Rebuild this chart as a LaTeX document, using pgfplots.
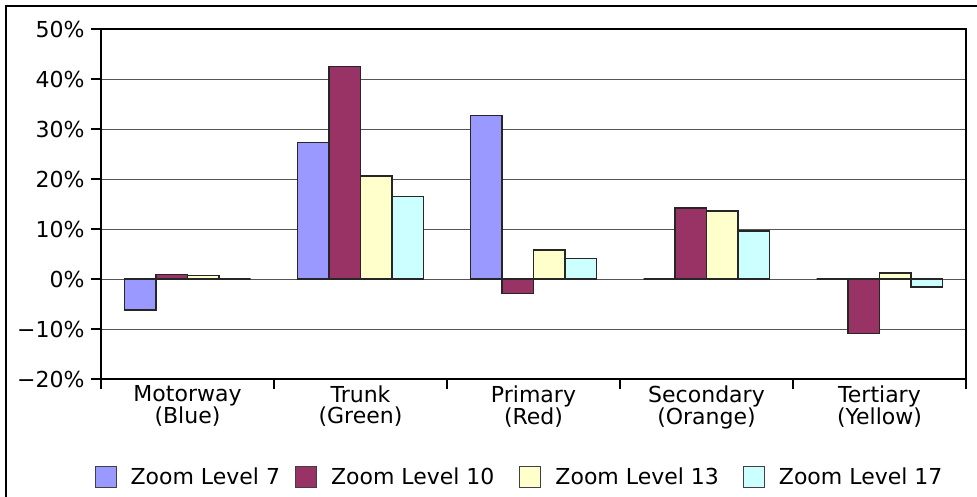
\documentclass[border=0pt]{standalone}
\usepackage{fontspec}
\setmainfont{DejaVu Sans}
\usepackage{pgfplots}
\pgfplotsset{compat=1.18}

\definecolor{zseven}{HTML}{9999FF}
\definecolor{zten}{HTML}{993366}
\definecolor{zthirteen}{HTML}{FFFFCC}
\definecolor{zseventeen}{HTML}{CCFFFF}
\definecolor{gridgray}{HTML}{555555}

\begin{document}
\begin{tikzpicture}
\begin{axis}[
  scale only axis,
  width=865pt, height=350pt,
  ymin=-20, ymax=50,
  xmin=-0.5, xmax=4.5,
  ybar=0pt, bar width=31.5pt,
  ytick={-20,-10,0,10,20,30,40,50},
  yticklabels={−20\%,−10\%,0\%,10\%,20\%,30\%,40\%,50\%},
  ymajorgrids,
  grid style={gridgray, line width=0.9pt},
  xtick={-0.5,0.5,1.5,2.5,3.5,4.5},
  xticklabels={},
  extra x ticks={0,1,2,3,4},
  extra x tick labels={Motorway\\(Blue),Trunk\\(Green),Primary\\(Red),Secondary\\(Orange),Tertiary\\(Yellow)},
  extra x tick style={major tick length=0pt, grid=none},
  xtick pos=bottom, ytick pos=left,
  tick align=outside,
  major tick length=10pt,
  tick style={black, line width=1.2pt},
  axis line style={black, line width=1.3pt},
  tick label style={font=\fontsize{22}{21}\selectfont},
  xticklabel style={align=center, yshift=-3pt},
  yticklabel style={xshift=-3pt},
  every axis plot/.append style={draw=black!85, line width=1.1pt},
  legend columns=4,
  legend style={
    at={(0.4838,-0.28)}, anchor=center,
    draw=none, fill=none,
    font=\fontsize{22}{22}\selectfont,
    /tikz/every odd column/.append style={column sep=12pt},
    /tikz/column 2/.style={column sep=13pt},
    /tikz/column 4/.style={column sep=23pt},
    /tikz/column 6/.style={column sep=22pt},
  },
  legend image code/.code={%
    \draw[#1, draw=black!75, line width=1pt] (0pt,-10.5pt) rectangle (21pt,10.5pt);},
]
% Zoom level 7
\addplot[fill=zseven] coordinates {(0,-6.2) (1,27.3) (2,32.7) (3,0) (4,0)};
% Zoom level 10
\addplot[fill=zten] coordinates {(0,0.9) (1,42.5) (2,-2.9) (3,14.2) (4,-10.9)};
% Zoom level 13
\addplot[fill=zthirteen] coordinates {(0,0.7) (1,20.6) (2,5.8) (3,13.6) (4,1.2)};
% Zoom level 17
\addplot[fill=zseventeen] coordinates {(0,0) (1,16.5) (2,4.1) (3,9.6) (4,-1.6)};
\legend{Zoom Level 7, Zoom Level 10, Zoom Level 13, Zoom Level 17}
\end{axis}
% outer frame (top and left edges)
\draw[black, line width=1.6pt] (-95pt,-130pt) -- (-95pt,373pt) -- (890pt,373pt);
\pgfresetboundingbox
\path[use as bounding box] (-101pt,-117pt) rectangle (876pt,379pt);
\end{tikzpicture}
\end{document}
